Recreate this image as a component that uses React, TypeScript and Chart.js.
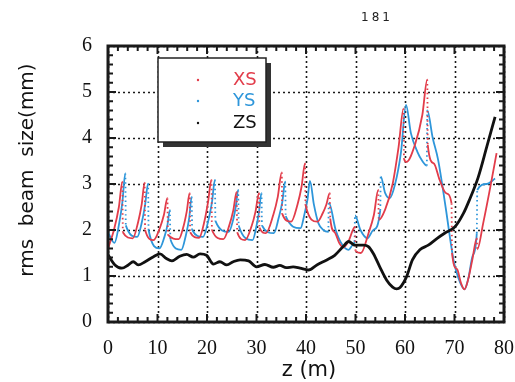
import React, { useEffect, useRef } from 'react';
import { Chart, registerables } from 'chart.js';

Chart.register(...registerables);

// ---- data (z in m, rms beam size in mm) ----
const zXS = [0, 1.2, 2.2, 2.9, 3.0, 5.0, 6.1, 6.8, 7.4, 7.5, 9.2, 10.5, 11.3, 12.0, 12.1, 14.3, 15.3, 15.9, 16.5, 16.6, 18.4, 19.5, 20.2, 20.9, 21.0, 23.3, 24.5, 25.3, 26.0, 26.1, 27.7, 29.0, 29.8, 30.5, 30.6, 31.9, 33.4, 34.3, 35.1, 35.2, 37.0, 38.3, 39.1, 39.8, 39.9, 42.3, 43.4, 44.1, 44.8, 44.9, 45.8, 46.7, 47.5, 48.6, 49.9, 50.0, 51.1, 52.6, 53.7, 54.6, 54.7, 56.0, 57.5, 58.7, 59.7, 59.8, 60.3, 62.0, 63.5, 64.5, 64.6, 65.8, 67.0, 68.3, 69.4, 69.5, 70.5, 71.3, 72.0, 72.7, 73.6, 74.5, 74.6, 75.8, 77.0, 78.5];
const vXS = [1.6, 2.0, 2.5, 3.05, 1.95, 1.82, 2.18, 2.55, 3.03, 2.0, 1.78, 2.05, 2.33, 2.69, 1.9, 1.8, 2.1, 2.4, 2.8, 1.95, 1.83, 2.2, 2.6, 3.09, 2.0, 1.8, 2.1, 2.42, 2.83, 1.95, 1.78, 2.08, 2.4, 2.8, 2.05, 1.93, 2.33, 2.72, 3.25, 2.35, 2.18, 2.56, 2.94, 3.45, 2.55, 2.18, 2.37, 2.55, 2.8, 2.25, 1.95, 1.72, 1.62, 1.76, 2.07, 1.55, 1.5, 1.92, 2.32, 2.87, 2.22, 2.45, 3.0, 3.8, 4.64, 3.55, 3.48, 3.85, 4.5, 5.27, 3.85, 3.45, 3.09, 2.8, 2.58, 1.5, 1.15, 0.85, 0.71, 0.9, 1.35, 1.82, 1.58, 2.15, 2.8, 3.67];

const zYS = [0, 1.3, 2.3, 2.9, 3.5, 3.6, 5.9, 6.9, 7.5, 8.1, 8.2, 10.4, 11.4, 12.0, 12.5, 12.6, 14.8, 15.8, 16.4, 16.9, 17.0, 19.2, 20.3, 21.0, 21.6, 21.7, 24.4, 25.3, 25.8, 26.3, 26.4, 29.2, 30.0, 30.5, 31.0, 31.1, 33.5, 34.5, 35.2, 35.8, 35.9, 38.9, 39.7, 40.3, 40.8, 41.6, 42.5, 43.5, 44.5, 44.6, 46.0, 47.2, 48.6, 49.5, 49.8, 49.9, 51.0, 52.4, 53.6, 55.0, 55.1, 56.0, 56.9, 58.0, 59.2, 60.2, 61.2, 62.5, 63.5, 64.4, 64.5, 65.6, 66.7, 68.2, 69.8, 70.8, 72.0, 72.8, 73.7, 74.5, 74.6, 76.5, 78.2];
const vYS = [1.95, 1.72, 2.17, 2.6, 3.23, 2.1, 1.85, 2.2, 2.55, 3.01, 2.0, 1.6, 1.85, 2.1, 2.43, 1.8, 1.57, 1.92, 2.26, 2.72, 2.0, 1.85, 2.22, 2.6, 3.09, 2.2, 1.96, 2.23, 2.5, 2.87, 2.1, 1.78, 2.09, 2.39, 2.8, 2.1, 1.93, 2.27, 2.6, 3.05, 2.3, 2.04, 2.35, 2.66, 3.07, 2.55, 2.15, 2.0, 1.96, 2.6, 2.0, 1.7, 1.57, 1.68, 1.75, 2.32, 2.0, 1.82, 2.0, 2.43, 3.16, 2.8, 2.69, 3.0, 3.7, 4.72, 4.1, 3.7, 3.5, 3.4, 4.6, 4.0, 3.52, 2.5, 1.35, 0.95, 0.71, 0.95, 1.45, 1.93, 2.87, 3.0, 3.12];

const zZS = [0, 1.4, 2.8, 4.1, 5.1, 6.1, 7.5, 9.2, 10.5, 11.8, 12.9, 14.5, 15.9, 17.2, 18.6, 19.9, 21.3, 22.6, 24.0, 25.3, 26.7, 28.4, 30.0, 31.7, 33.4, 34.7, 36.0, 37.4, 38.8, 40.5, 42.2, 44.2, 45.8, 47.5, 48.6, 49.9, 51.6, 52.6, 53.6, 54.9, 56.3, 57.5, 58.3, 59.0, 60.3, 61.5, 63.0, 64.7, 66.5, 68.0, 70.1, 71.8, 73.0, 74.8, 76.5, 78.2];
const vZS = [1.46, 1.24, 1.17, 1.24, 1.31, 1.24, 1.31, 1.42, 1.48, 1.38, 1.33, 1.43, 1.47, 1.41, 1.48, 1.45, 1.26, 1.31, 1.24, 1.31, 1.35, 1.33, 1.2, 1.25, 1.19, 1.23, 1.18, 1.2, 1.17, 1.13, 1.24, 1.35, 1.45, 1.64, 1.75, 1.67, 1.67, 1.64, 1.49, 1.2, 0.91, 0.76, 0.72, 0.75, 0.98, 1.35, 1.57, 1.67, 1.82, 1.93, 2.07, 2.36, 2.65, 3.15, 3.8, 4.46];

const X_TICKS = [0, 10, 20, 30, 40, 50, 60, 70, 80];
const Y_TICKS = [0, 1, 2, 3, 4, 5, 6];
const SERIES_NAMES = ['XS', 'YS', 'ZS'];
const X_TITLE = 'z (m)';
const Y_TITLE = 'rms  beam  size(mm)';
const PAGE_NUMBER = '181';

const RED = '#e23c4a';
const BLUE = '#2e96da';
const BLACK = '#111111';

const toPts = (zs: number[], vs: number[]) => zs.map((z, i) => ({ x: z, y: vs[i] }));

const dropDash = (ctx: any) =>
  Math.abs(ctx.p1.parsed.x - ctx.p0.parsed.x) < 0.25 ? [1.5, 3] : undefined;

const framePlugin = {
  id: 'frame',
  beforeDatasetsDraw(chart: any) {
    const { ctx, chartArea: a, scales } = chart;
    const x = scales.x, y = scales.y;
    ctx.save();
    ctx.strokeStyle = '#1a1a1a';
    ctx.lineWidth = 1.6;
    ctx.setLineDash([2, 3]);
    for (const t of X_TICKS) {
      const px = Math.round(x.getPixelForValue(t)) + 0.5;
      ctx.beginPath(); ctx.moveTo(px, a.top); ctx.lineTo(px, a.bottom); ctx.stroke();
    }
    for (const t of Y_TICKS) {
      const py = Math.round(y.getPixelForValue(t)) + 0.5;
      ctx.beginPath(); ctx.moveTo(a.left, py); ctx.lineTo(a.right, py); ctx.stroke();
    }
    ctx.restore();
  },
  afterDraw(chart: any) {
    const { ctx, chartArea: a, scales } = chart;
    const x = scales.x, y = scales.y;
    ctx.save();
    ctx.strokeStyle = '#1a1a1a';
    ctx.lineWidth = 2;
    ctx.setLineDash([]);
    for (let t = 0; t <= 80; t += 2) {
      const px = x.getPixelForValue(t);
      const len = t % 10 === 0 ? 8 : 5;
      ctx.beginPath();
      ctx.moveTo(px, a.bottom); ctx.lineTo(px, a.bottom - len);
      ctx.moveTo(px, a.top); ctx.lineTo(px, a.top + len);
      ctx.stroke();
    }
    for (let k = 0; k <= 30; k++) {
      const py = y.getPixelForValue(k * 0.2);
      const len = k % 5 === 0 ? 8 : 5;
      ctx.beginPath();
      ctx.moveTo(a.left, py); ctx.lineTo(a.left + len, py);
      ctx.moveTo(a.right, py); ctx.lineTo(a.right - len, py);
      ctx.stroke();
    }
    ctx.lineWidth = 3;
    ctx.strokeRect(a.left, a.top, a.right - a.left, a.bottom - a.top);

    // axis titles
    ctx.fillStyle = '#111111';
    ctx.font = '20px "DejaVu Sans"';
    ctx.textAlign = 'center';
    ctx.textBaseline = 'middle';
    ctx.save();
    ctx.translate(28, 170);
    ctx.rotate(-Math.PI / 2);
    ctx.fillText(Y_TITLE, 0, 0);
    ctx.restore();
    ctx.font = '21px "DejaVu Sans"';
    ctx.fillText(X_TITLE, 309, 371);

    // legend box with shadow
    const bx = 158, by = 58, bw = 108, bh = 84;
    ctx.fillStyle = '#333333';
    ctx.fillRect(bx + 5, by + 5, bw, bh);
    ctx.fillStyle = '#ffffff';
    ctx.fillRect(bx, by, bw, bh);
    ctx.lineWidth = 1.5;
    ctx.strokeStyle = '#222222';
    ctx.strokeRect(bx, by, bw, bh);
    const cols = [RED, BLUE, BLACK];
    const rows = [80, 101, 123];
    ctx.font = '18px "DejaVu Sans"';
    ctx.textAlign = 'left';
    SERIES_NAMES.forEach((n, i) => {
      ctx.fillStyle = cols[i];
      ctx.beginPath(); ctx.arc(198, rows[i], 1.2, 0, Math.PI * 2); ctx.fill();
      ctx.fillText(n, 233, rows[i]);
    });

    ctx.fillStyle = '#222222';
    ctx.font = '12px "DejaVu Sans"';
    (ctx as any).letterSpacing = '3px';
    ctx.textAlign = 'center';
    ctx.fillText(PAGE_NUMBER, 377, 18);
    ctx.restore();
  },
};

export default function App() {
  const ref = useRef<HTMLCanvasElement | null>(null);
  useEffect(() => {
    if (!ref.current) return;
    const chart = new Chart(ref.current, {
      type: 'line',
      data: {
        datasets: [
          { label: SERIES_NAMES[0], data: toPts(zXS, vXS), borderColor: RED, borderWidth: 1.8, pointRadius: 0, order: 1, cubicInterpolationMode: 'monotone', segment: { borderDash: dropDash } },
          { label: SERIES_NAMES[1], data: toPts(zYS, vYS), borderColor: BLUE, borderWidth: 1.8, pointRadius: 0, order: 2, cubicInterpolationMode: 'monotone', segment: { borderDash: dropDash } },
          { label: SERIES_NAMES[2], data: toPts(zZS, vZS), borderColor: BLACK, borderWidth: 2.8, pointRadius: 0, order: 0, cubicInterpolationMode: 'monotone' },
        ],
      },
      options: {
        animation: false,
        responsive: false,
        layout: { padding: { left: 0, right: 11, top: 46, bottom: 0 } },
        plugins: { legend: { display: false }, tooltip: { enabled: false } },
        scales: {
          x: {
            type: 'linear', min: 0, max: 80,
            afterFit: (s: any) => { s.height = 60; s.paddingLeft = 0; s.paddingRight = 0; },
            afterBuildTicks: (s: any) => { s.ticks = X_TICKS.map((v) => ({ value: v })); },
            grid: { display: false, drawTicks: false },
            border: { display: false },
            ticks: { color: '#111', padding: 15, font: { family: '"Liberation Serif"', size: 20 }, autoSkip: false, maxRotation: 0 },
            title: { display: false },
          },
          y: {
            type: 'linear', min: 0, max: 6,
            afterFit: (s: any) => { s.width = 108; s.paddingTop = 0; s.paddingBottom = 0; },
            afterBuildTicks: (s: any) => { s.ticks = Y_TICKS.map((v) => ({ value: v })); },
            grid: { display: false, drawTicks: false },
            border: { display: false },
            ticks: { color: '#111', padding: 16, font: { family: '"Liberation Serif"', size: 20 } },
            title: { display: false },
          },
        },
      },
      plugins: [framePlugin],
    } as any);
    return () => chart.destroy();
  }, []);
  return (
    <div style={{ position: 'fixed', left: 0, top: 0, width: 515, height: 382, background: '#fff' }}>
      <canvas ref={ref} width={515} height={382} style={{ display: 'block' }} />
    </div>
  );
}
